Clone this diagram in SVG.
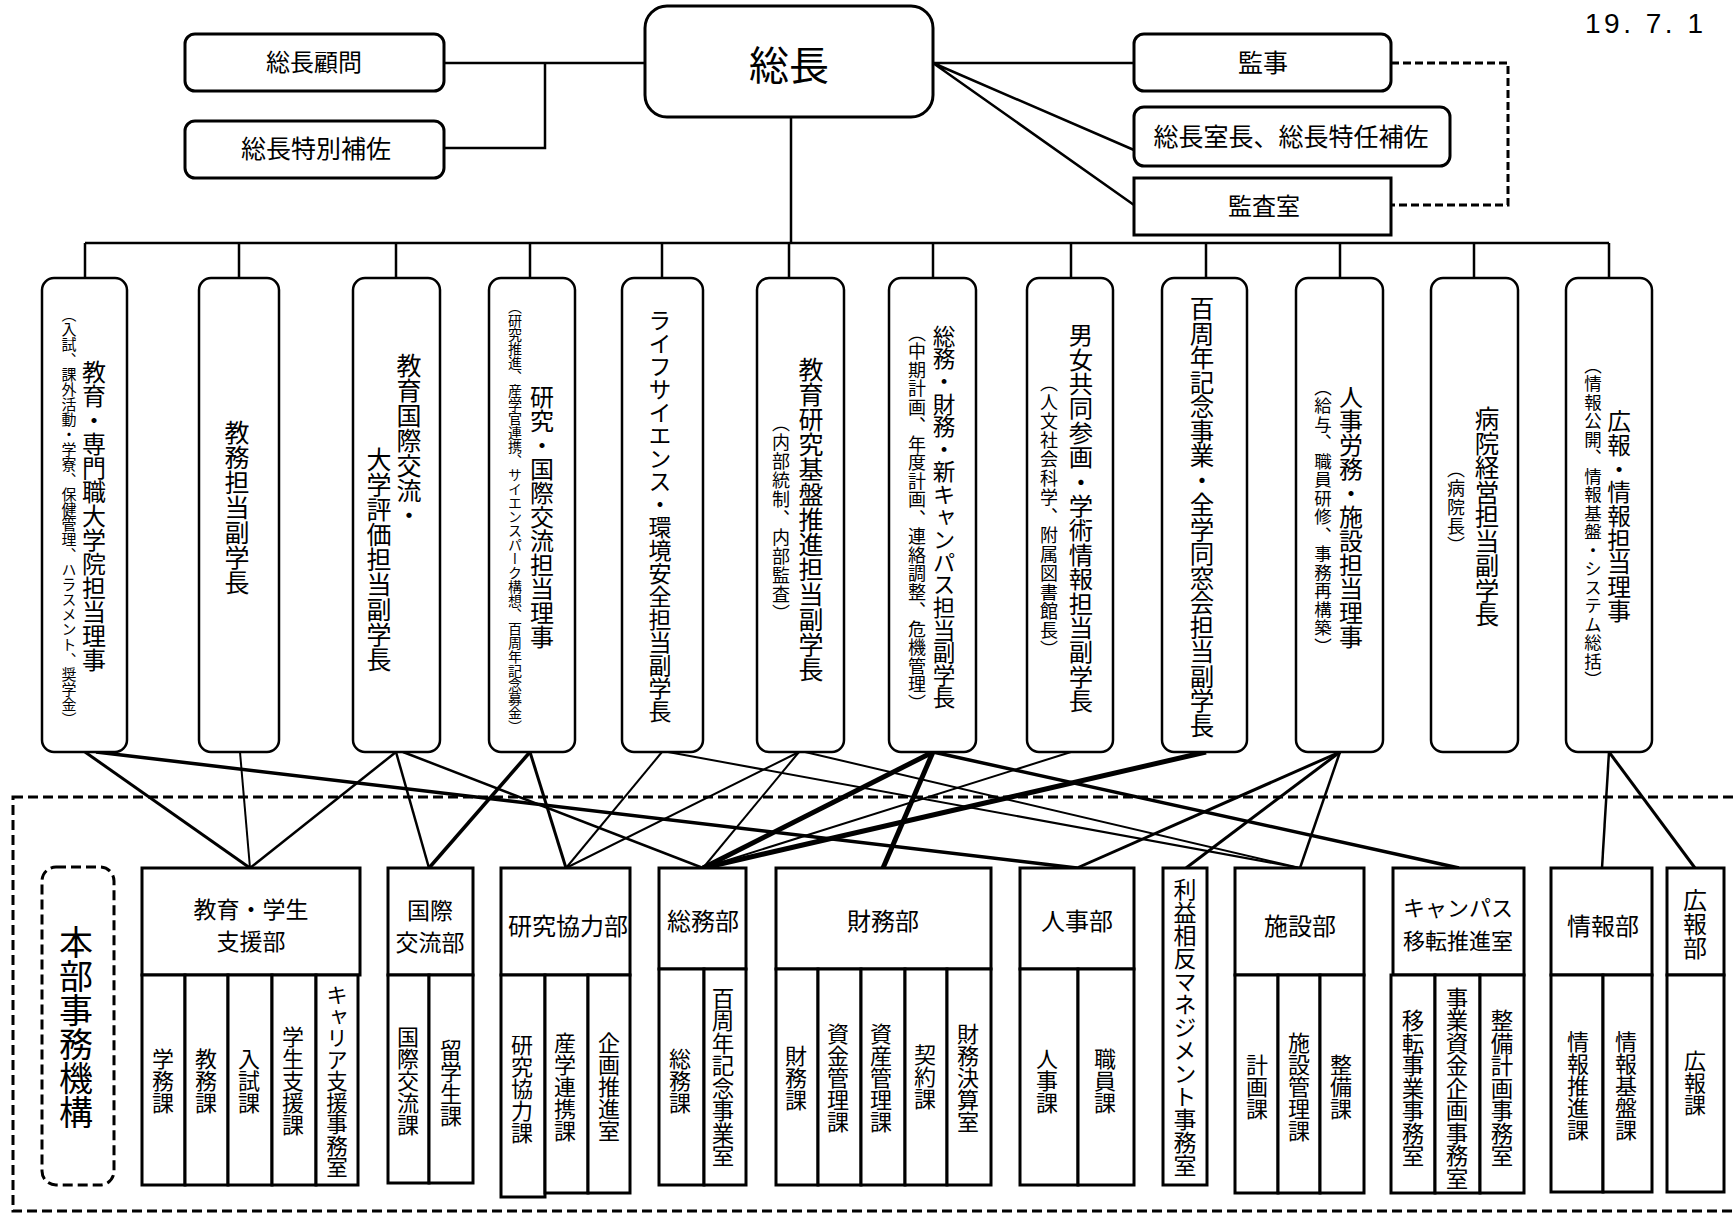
<svg xmlns="http://www.w3.org/2000/svg" width="1736" height="1214" viewBox="0 0 1736 1214">
<style>
.t{font-family:"Noto Sans CJK JP","Noto Sans CJK SC",sans-serif;fill:#000}
.v{writing-mode:vertical-rl;text-anchor:middle}
.h{text-anchor:middle}
.box{fill:#fff;stroke:#000;stroke-width:3}
.rb{fill:#fff;stroke:#000;stroke-width:2.5}
.ln{fill:none;stroke:#000;stroke-width:2.5}
.dash{fill:none;stroke:#000;stroke-width:3;stroke-dasharray:10 5}
</style>
<rect width="1736" height="1214" fill="#fff"/>

<!-- outer dashed region -->
<rect class="dash" x="13" y="797" width="1740" height="414"/>

<g id="connectors">
  <path class="ln" d="M444,63 H645 M545,63 V148 H444"/>
  <path class="ln" d="M933,63 H1134 M933,63 L1134,150 M933,63 L1134,205"/>
  <path class="dash" d="M1391,63 H1508 V205 H1391" style="stroke-dasharray:8 4"/>
  <path class="ln" d="M791,117 V243 M85,243 H1609"/>
  <path class="ln" d="M85,243 V278 M239,243 V278 M396,243 V278 M530,243 V278 M662,243 V278 M789,243 V278 M933,243 V278 M1071,243 V278 M1206,243 V278 M1340,243 V278 M1474,243 V278 M1609,243 V278"/>
  <g fill="none" stroke="#000">
    <line x1="85" y1="752" x2="250" y2="868" stroke-width="3"/>
    <line x1="96" y1="752" x2="1077" y2="868" stroke-width="3.5"/>
    <line x1="240" y1="752" x2="250" y2="868" stroke-width="2"/>
    <line x1="396" y1="752" x2="250" y2="868" stroke-width="2.5"/>
    <line x1="396" y1="752" x2="429" y2="868" stroke-width="2.5"/>
    <line x1="403" y1="752" x2="703" y2="868" stroke-width="2.5"/>
    <line x1="530" y1="752" x2="429" y2="868" stroke-width="3.5"/>
    <line x1="530" y1="752" x2="566" y2="868" stroke-width="3"/>
    <line x1="662" y1="752" x2="566" y2="868" stroke-width="2"/>
    <line x1="668" y1="752" x2="1300" y2="868" stroke-width="2"/>
    <line x1="799" y1="752" x2="566" y2="868" stroke-width="2"/>
    <line x1="799" y1="752" x2="703" y2="868" stroke-width="2"/>
    <line x1="805" y1="752" x2="1300" y2="868" stroke-width="2"/>
    <line x1="933" y1="752" x2="703" y2="868" stroke-width="5"/>
    <line x1="933" y1="752" x2="883" y2="868" stroke-width="5"/>
    <line x1="933" y1="752" x2="1459" y2="868" stroke-width="3.5"/>
    <line x1="1071" y1="752" x2="703" y2="868" stroke-width="2"/>
    <line x1="1206" y1="752" x2="703" y2="868" stroke-width="5"/>
    <line x1="1340" y1="752" x2="1077" y2="868" stroke-width="3"/>
    <line x1="1340" y1="752" x2="1186" y2="868" stroke-width="3"/>
    <line x1="1340" y1="752" x2="1300" y2="868" stroke-width="2.5"/>
    <line x1="1609" y1="752" x2="1602" y2="868" stroke-width="2.5"/>
    <line x1="1609" y1="752" x2="1695" y2="868" stroke-width="3"/>
  </g>
</g>

<text x="1585" y="33" style="font-family:'Liberation Sans',Arial,sans-serif;font-size:28px;fill:#000" textLength="118" lengthAdjust="spacing">19. 7. 1</text>

<g id="president">
  <rect class="box" x="645" y="6" width="288" height="111" rx="22"/>
  <text class="t h" x="789" y="80" font-size="40">総長</text>
</g>
<g id="advisor">
  <rect class="box" x="185" y="34" width="259" height="57" rx="10"/>
  <text class="t h" x="314" y="71" font-size="24">総長顧問</text>
</g>
<g id="special-aide">
  <rect class="box" x="185" y="121" width="259" height="57" rx="10"/>
  <text class="t h" x="316" y="158" font-size="25">総長特別補佐</text>
</g>
<g id="auditor">
  <rect class="box" x="1134" y="34" width="257" height="57" rx="10"/>
  <text class="t h" x="1263" y="72" font-size="25">監事</text>
</g>
<g id="office-chief">
  <rect class="box" x="1134" y="107" width="316" height="59" rx="10"/>
  <text class="t h" x="1291" y="146" font-size="25">総長室長、総長特任補佐</text>
</g>
<g id="audit-office">
  <rect class="box" x="1134" y="178" width="257" height="57"/>
  <text class="t h" x="1264" y="215" font-size="24">監査室</text>
</g>

<!-- officers -->
<g id="officer1">
  <rect class="rb" x="42" y="278" width="85" height="474" rx="12"/>
  <text class="t v" x="94" y="516" font-size="24">教育・専門職大学院担当理事</text>
  <text class="t v" x="69" y="517" font-size="15">（入試、課外活動・学寮、保健管理、ハラスメント、奨学金）</text>
</g>
<g id="officer2">
  <rect class="rb" x="199" y="278" width="80" height="474" rx="12"/>
  <text class="t v" x="237" y="507" font-size="25">教務担当副学長</text>
</g>
<g id="officer3">
  <rect class="rb" x="353" y="278" width="87" height="474" rx="12"/>
  <text class="t v" x="409" y="353" font-size="25" style="text-anchor:start">教育国際交流・</text>
  <text class="t v" x="379" y="447" font-size="25" style="text-anchor:start">大学評価担当副学長</text>
</g>
<g id="officer4">
  <rect class="rb" x="489" y="278" width="86" height="474" rx="12"/>
  <text class="t v" x="542" y="517" font-size="24">研究・国際交流担当理事</text>
  <text class="t v" x="515" y="517" font-size="14">（研究推進、産学官連携、サイエンスパーク構想、百周年記念募金）</text>
</g>
<g id="officer5">
  <rect class="rb" x="622" y="278" width="81" height="474" rx="12"/>
  <text class="t v" x="660" y="516" font-size="23">ライフサイエンス・環境安全担当副学長</text>
</g>
<g id="officer6">
  <rect class="rb" x="757" y="278" width="87" height="474" rx="12"/>
  <text class="t v" x="811" y="519" font-size="25">教育研究基盤推進担当副学長</text>
  <text class="t v" x="781" y="519" font-size="18" letter-spacing="1">（内部統制、内部監査）</text>
</g>
<g id="officer7">
  <rect class="rb" x="889" y="278" width="87" height="474" rx="12"/>
  <text class="t v" x="944" y="517" font-size="22.6">総務・財務・新キャンパス担当副学長</text>
  <text class="t v" x="917" y="518" font-size="18" letter-spacing="0.5">（中期計画、年度計画、連絡調整、危機管理）</text>
</g>
<g id="officer8">
  <rect class="rb" x="1027" y="278" width="86" height="474" rx="12"/>
  <text class="t v" x="1081" y="518" font-size="24.4">男女共同参画・学術情報担当副学長</text>
  <text class="t v" x="1049" y="517" font-size="18" letter-spacing="1">（人文社会科学、附属図書館長）</text>
</g>
<g id="officer9">
  <rect class="rb" x="1162" y="278" width="85" height="474" rx="12"/>
  <text class="t v" x="1202" y="517" font-size="24.5">百周年記念事業・全学同窓会担当副学長</text>
</g>
<g id="officer10">
  <rect class="rb" x="1296" y="278" width="87" height="474" rx="12"/>
  <text class="t v" x="1351" y="517" font-size="24">人事労務・施設担当理事</text>
  <text class="t v" x="1323" y="517" font-size="17.5" letter-spacing="1">（給与、職員研修、事務再構築）</text>
</g>
<g id="officer11">
  <rect class="rb" x="1431" y="278" width="87" height="474" rx="12"/>
  <text class="t v" x="1487" y="517" font-size="24.5">病院経営担当副学長</text>
  <text class="t v" x="1456" y="508" font-size="18" letter-spacing="1">（病院長）</text>
</g>
<g id="officer12">
  <rect class="rb" x="1566" y="278" width="86" height="474" rx="12"/>
  <text class="t v" x="1619" y="516" font-size="23.7">広報・情報担当理事</text>
  <text class="t v" x="1593" y="523" font-size="17.5" letter-spacing="1">（情報公開、情報基盤・システム総括）</text>
</g>

<!-- head office label -->
<g id="honbu">
  <rect class="dash" x="42" y="867" width="72" height="318" rx="14"/>
  <text class="t v" x="76" y="1027" font-size="34">本部事務機構</text>
</g>

<g id="dept-education">
  <rect class="box" x="142" y="868" width="218" height="107"/>
  <text class="t h" x="251" y="918" font-size="23">教育・学生</text>
  <text class="t h" x="251" y="950" font-size="23">支援部</text>
  <rect class="box" x="142" y="975" width="43" height="210"/>
  <rect class="box" x="185" y="975" width="43" height="210"/>
  <rect class="box" x="228" y="975" width="44" height="210"/>
  <rect class="box" x="272" y="975" width="44" height="210"/>
  <rect class="box" x="316" y="975" width="42" height="210"/>
  <text class="t v" x="163" y="1081" font-size="22">学務課</text>
  <text class="t v" x="206" y="1081" font-size="22">教務課</text>
  <text class="t v" x="249" y="1081" font-size="22">入試課</text>
  <text class="t v" x="293" y="1081" font-size="22">学生支援課</text>
  <text class="t v" x="337" y="1081" font-size="21.5">キャリア支援事務室</text>
</g>
<g id="dept-intl">
  <rect class="box" x="388" y="868" width="85" height="107"/>
  <text class="t h" x="430" y="919" font-size="23">国際</text>
  <text class="t h" x="430" y="951" font-size="23">交流部</text>
  <rect class="box" x="388" y="975" width="41" height="208"/>
  <rect class="box" x="429" y="975" width="44" height="208"/>
  <text class="t v" x="408" y="1081" font-size="22">国際交流課</text>
  <text class="t v" x="451" y="1083" font-size="22">留学生課</text>
</g>
<g id="dept-research">
  <rect class="box" x="501" y="868" width="129" height="107"/>
  <text class="t h" x="568" y="935" font-size="24">研究協力部</text>
  <rect class="box" x="501" y="975" width="44" height="222"/>
  <rect class="box" x="545" y="975" width="43" height="218"/>
  <rect class="box" x="588" y="975" width="42" height="218"/>
  <text class="t v" x="522" y="1089" font-size="22">研究協力課</text>
  <text class="t v" x="565" y="1087" font-size="22">産学連携課</text>
  <text class="t v" x="609" y="1087" font-size="22">企画推進室</text>
</g>
<g id="dept-general">
  <rect class="box" x="659" y="868" width="87" height="101"/>
  <text class="t h" x="703" y="930" font-size="24">総務部</text>
  <rect class="box" x="659" y="969" width="45" height="216"/>
  <rect class="box" x="704" y="969" width="42" height="216"/>
  <text class="t v" x="680" y="1081" font-size="22">総務課</text>
  <text class="t v" x="723" y="1077" font-size="22.5">百周年記念事業室</text>
</g>
<g id="dept-finance">
  <rect class="box" x="776" y="868" width="215" height="101"/>
  <text class="t h" x="883" y="930" font-size="24">財務部</text>
  <rect class="box" x="776" y="969" width="42" height="216"/>
  <rect class="box" x="818" y="969" width="43" height="216"/>
  <rect class="box" x="861" y="969" width="44" height="216"/>
  <rect class="box" x="905" y="969" width="42" height="216"/>
  <rect class="box" x="947" y="969" width="44" height="216"/>
  <text class="t v" x="796" y="1078" font-size="22">財務課</text>
  <text class="t v" x="838" y="1078" font-size="22">資金管理課</text>
  <text class="t v" x="881" y="1078" font-size="22">資産管理課</text>
  <text class="t v" x="925" y="1077" font-size="22">契約課</text>
  <text class="t v" x="968" y="1078" font-size="22">財務決算室</text>
</g>
<g id="dept-personnel">
  <rect class="box" x="1020" y="868" width="114" height="101"/>
  <text class="t h" x="1077" y="930" font-size="24">人事部</text>
  <rect class="box" x="1020" y="969" width="58" height="216"/>
  <rect class="box" x="1078" y="969" width="56" height="216"/>
  <text class="t v" x="1047" y="1081" font-size="22">人事課</text>
  <text class="t v" x="1105" y="1081" font-size="22">職員課</text>
</g>
<g id="dept-coi">
  <rect class="box" x="1163" y="868" width="44" height="317"/>
  <text class="t v" x="1185" y="1027" font-size="23">利益相反マネジメント事務室</text>
</g>
<g id="dept-facilities">
  <rect class="box" x="1235" y="868" width="129" height="107"/>
  <text class="t h" x="1300" y="935" font-size="24">施設部</text>
  <rect class="box" x="1235" y="975" width="43" height="218"/>
  <rect class="box" x="1278" y="975" width="42" height="218"/>
  <rect class="box" x="1320" y="975" width="44" height="218"/>
  <text class="t v" x="1257" y="1087" font-size="22">計画課</text>
  <text class="t v" x="1299" y="1087" font-size="22">施設管理課</text>
  <text class="t v" x="1341" y="1087" font-size="22">整備課</text>
</g>
<g id="dept-campus">
  <rect class="box" x="1393" y="868" width="131" height="107"/>
  <text class="t h" x="1458" y="916" font-size="22">キャンパス</text>
  <text class="t h" x="1458" y="949" font-size="22">移転推進室</text>
  <rect class="box" x="1391" y="975" width="44" height="218"/>
  <rect class="box" x="1435" y="975" width="45" height="218"/>
  <rect class="box" x="1480" y="975" width="44" height="218"/>
  <text class="t v" x="1413" y="1088" font-size="22.5">移転事業事務室</text>
  <text class="t v" x="1457" y="1088" font-size="22.5">事業資金企画事務室</text>
  <text class="t v" x="1502" y="1088" font-size="22.5">整備計画事務室</text>
</g>
<g id="dept-info">
  <rect class="box" x="1551" y="868" width="101" height="107"/>
  <text class="t h" x="1603" y="935" font-size="24">情報部</text>
  <rect class="box" x="1551" y="975" width="52" height="217"/>
  <rect class="box" x="1603" y="975" width="49" height="217"/>
  <text class="t v" x="1578" y="1086" font-size="22">情報推進課</text>
  <text class="t v" x="1626" y="1086" font-size="22">情報基盤課</text>
</g>
<g id="dept-pr">
  <rect class="box" x="1667" y="868" width="57" height="107"/>
  <text class="t v" x="1695" y="924" font-size="24">広報部</text>
  <rect class="box" x="1667" y="975" width="57" height="217"/>
  <text class="t v" x="1695" y="1083" font-size="22">広報課</text>
</g>
</svg>
